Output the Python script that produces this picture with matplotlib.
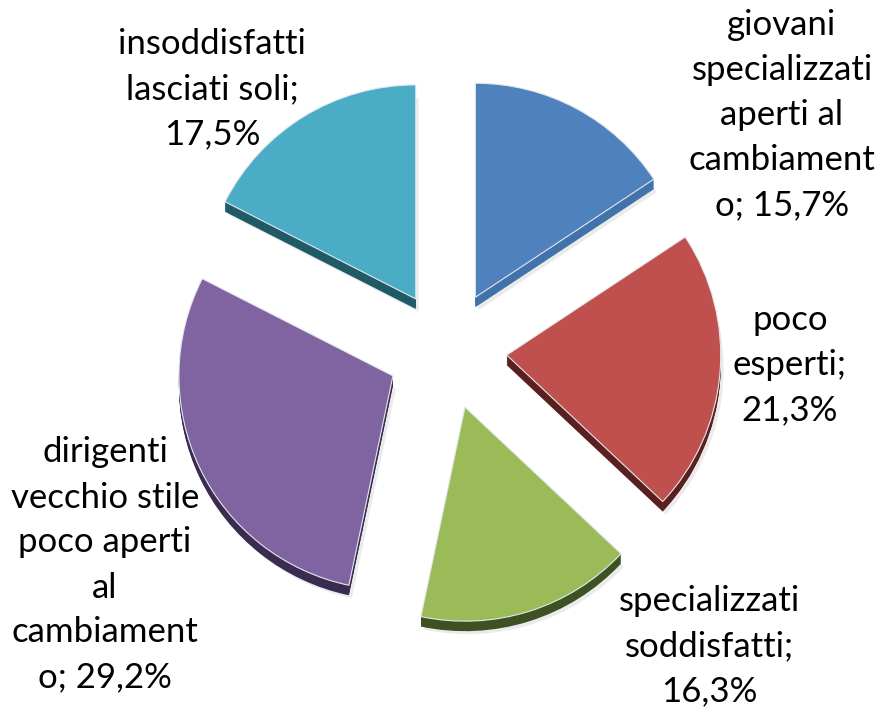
import matplotlib
matplotlib.use("Agg")
import matplotlib.pyplot as plt

labels = ['giovani\nspecializzati\naperti al\ncambiament\no; 15,7%',
          'poco\nesperti;\n21,3%',
          'specializzati\nsoddisfatti;\n16,3%',
          'dirigenti\nvecchio stile\npoco aperti\nal\ncambiament\no; 29,2%',
          'insoddisfatti\nlasciati soli;\n17,5%']
values = [15.7, 21.3, 16.3, 29.2, 17.5]
top_colors = ['#4F81BD', '#C0504D', '#9BBB59', '#8064A2', '#4BACC6']
side_colors = ['#4272AA', '#5A1F1F', '#3E5122', '#3B2B50', '#1F5A66']

# label centres in pixels (from top-left)
label_pos = [(782, 115), (790, 365), (709, 646), (105, 565), (212, 89)]

W, H = 882, 711
cx, cy = 447, H - 350
R = 214
depth = 10
expl = [0.28 * R] * 5

fig = plt.figure(figsize=(W / 100, H / 100), dpi=100)
ax = fig.add_axes([0, 0, 1, 1])

# soft drop shadow
ax.pie(values, colors=['#000000'] * 5, startangle=90, counterclock=False,
       radius=R, center=(cx + 3, cy - depth - 3), explode=expl,
       wedgeprops=dict(linewidth=0, alpha=0.08))

# side of the slices
for d in range(depth, 0, -1):
    ax.pie(values, colors=side_colors, startangle=90, counterclock=False,
           radius=R, center=(cx, cy - d), explode=expl,
           wedgeprops=dict(linewidth=0))

# top face
ax.pie(values, colors=top_colors, startangle=90, counterclock=False,
       radius=R, center=(cx, cy), explode=expl,
       wedgeprops=dict(linewidth=0.8, edgecolor='#e4e8ee'))

for txt, (x, y) in zip(labels, label_pos):
    ax.text(x, H - y, txt, ha='center', va='center', multialignment='center',
            fontsize=25, family='Lato', linespacing=1.5, color='black')

ax.set_xlim(0, W)
ax.set_ylim(0, H)
ax.set_aspect('equal')
ax.axis('off')

fig.savefig('out.png', dpi=100, facecolor='white')
